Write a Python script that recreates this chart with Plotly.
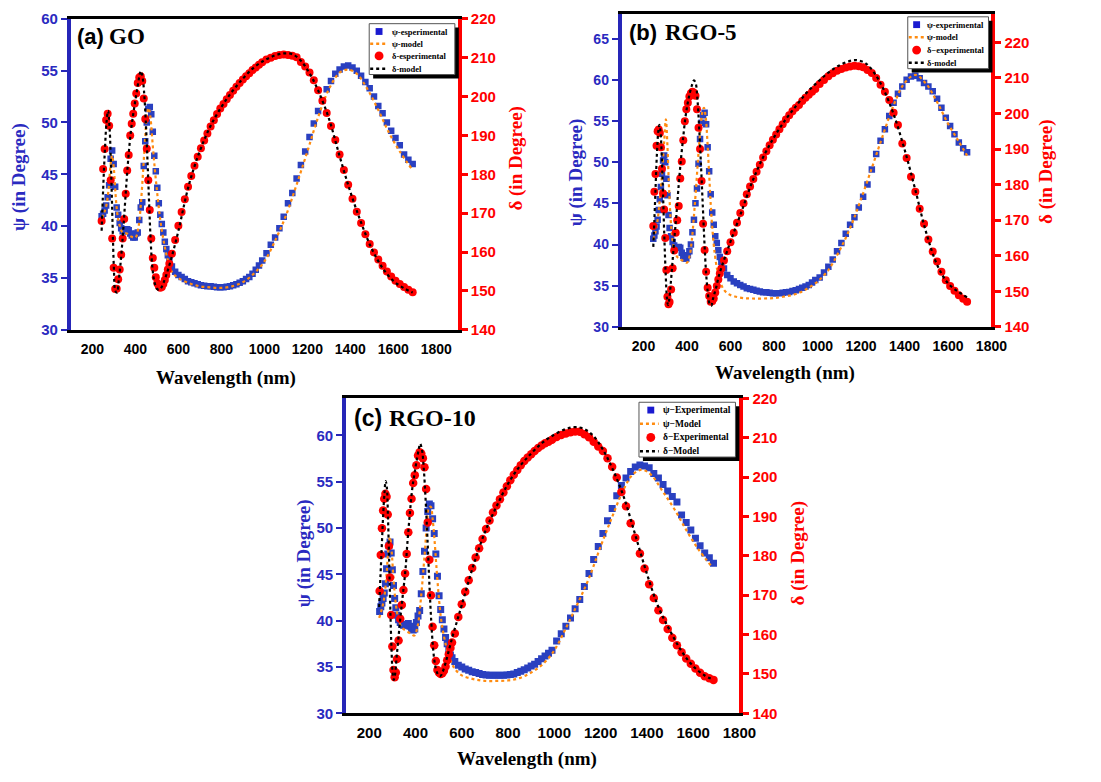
import plotly.graph_objects as go

# ---------------- data ----------------
x_ticks = [200, 400, 600, 800, 1000, 1200, 1400, 1600, 1800]

# Panel (a) GO
a_wl = [243, 250, 257, 264, 271, 278, 285, 292, 299, 306,
        313, 320, 327, 334, 341, 348, 355, 362, 369, 376,
        383, 390, 397, 404, 411, 418, 425, 432, 439, 446,
        453, 460, 467, 474, 481, 488, 495, 502, 509, 516,
        523, 530, 537, 544, 551, 558,
        570, 585, 600, 615, 630, 645, 660, 675, 690, 705,
        720, 735, 750, 765, 780, 795, 810, 825, 840, 855,
        870, 885, 900, 915, 930, 945, 960, 975, 990,
        1010, 1030, 1050, 1070, 1090, 1110, 1130, 1150, 1170, 1190,
        1210, 1230, 1250, 1270, 1290, 1310, 1330, 1350, 1370, 1390,
        1410, 1430, 1450, 1470, 1490, 1510, 1530, 1550, 1570, 1590,
        1610, 1630, 1650, 1670, 1690]
a_psi_exp = [40.95, 41.2, 41.5, 42.0, 42.8, 43.95, 46.5, 47.3, 46.0, 43.8,
             41.8, 41.1, 40.3, 39.8, 39.5, 39.5, 39.6, 39.7, 39.6, 39.3,
             39.1, 38.9, 38.9, 39.3, 39.4, 40.6, 41.8, 42.3, 45.8, 48.2,
             50.0, 51.3, 51.5, 50.8, 49.1, 46.8, 45.3, 43.7, 42.2, 41.1,
             40.2, 39.4, 38.5, 37.8, 37.2, 36.7,
             36.1, 35.6, 35.3, 35.1, 34.9, 34.7, 34.6, 34.5, 34.4, 34.3,
             34.25, 34.2, 34.2, 34.15, 34.1, 34.1, 34.1, 34.15, 34.2, 34.3,
             34.4, 34.55, 34.7, 34.9, 35.1, 35.4, 35.8, 36.2, 36.7,
             37.4, 38.2, 38.9, 39.8, 40.9, 42.2, 43.2, 44.6, 45.9, 47.2,
             48.6, 49.9, 51.1, 52.1, 53.2, 54.0, 54.7, 55.1, 55.4, 55.5,
             55.3, 55.0, 54.5, 53.9, 53.3, 52.5, 51.6, 50.9, 50.0, 49.2,
             48.5, 47.8, 46.9, 46.4, 46.0]
a_delta_exp = [168.0, 181.4, 186.5, 194.0, 195.6, 192.5, 178.5, 163.5, 156.0, 150.5,
               150.6, 153.0, 155.5, 159.3, 163.5, 168.5, 175.0, 181.0, 185.0, 190.0,
               193.0, 195.6, 198.2, 200.8, 203.5, 204.9, 205.2, 204.0, 199.5, 194.2,
               186.6, 178.5, 170.8, 163.5, 158.5, 156.0, 153.5, 152.0, 151.2, 150.8,
               151.0, 151.8, 152.8, 154.1, 155.5, 157.0,
               159.6, 163.1, 166.8, 170.3, 173.6, 176.8, 179.6, 182.2, 184.5, 186.7,
               188.7, 190.5, 192.3, 193.9, 195.5, 196.9, 198.1, 199.3, 200.4, 201.5,
               202.5, 203.5, 204.4, 205.2, 206.0, 206.8, 207.5, 208.2, 208.8,
               209.5, 210.0, 210.4, 210.7, 210.8, 210.7, 210.5, 210.1, 208.9, 207.7,
               206.2, 204.2, 201.6, 198.9, 195.8, 192.4, 188.8, 185.1, 181.1, 177.3,
               173.7, 170.4, 167.5, 164.6, 162.1, 159.9, 158.1, 156.5, 155.0, 153.7,
               152.6, 151.8, 151.0, 150.3, 149.7]
a_psi_mod_wl = [245, 255, 265, 275, 285, 292, 300, 308, 316, 325,
                340, 360, 380, 400, 415, 425, 435, 445, 455, 462,
                470, 480, 490, 500, 510, 520, 535, 550, 570, 600,
                650, 700, 750, 800, 850, 900, 950, 1000, 1050, 1100,
                1150, 1200, 1250, 1300, 1350, 1390, 1430, 1480, 1530, 1580,
                1630, 1690]
a_psi_mod = [40.8, 41.3, 42.0, 43.5, 46.0, 46.8, 45.5, 43.0, 41.2, 40.2,
             39.4, 39.3, 39.0, 38.9, 40.0, 42.0, 45.0, 48.3, 51.0, 51.4,
             50.5, 48.0, 45.6, 43.5, 41.6, 40.0, 38.2, 36.8, 35.6, 35.0,
             34.5, 34.2, 34.1, 34.05, 34.2, 34.6, 35.4, 36.6, 38.6, 41.0,
             44.0, 47.2, 50.5, 53.2, 54.8, 55.1, 54.7, 53.2, 51.2, 49.0,
             47.2, 45.4]
a_delta_mod_wl = [243, 250, 258, 266, 273, 280, 287, 294, 300, 307,
                  315, 322, 330, 340, 350, 360, 370, 380, 390, 400,
                  410, 418, 425, 432, 440, 448, 456, 464, 472, 480,
                  490, 500, 510, 520, 530, 545, 560, 580, 600, 650,
                  700, 750, 800, 850, 900, 950, 1000, 1050, 1090, 1130,
                  1170, 1210, 1250, 1300, 1350, 1400, 1450, 1500, 1550, 1600,
                  1650, 1690]
a_delta_mod = [165.5, 176.0, 186.0, 193.5, 196.3, 192.0, 181.0, 167.0, 156.0, 150.0,
               149.6, 152.5, 156.5, 163.0, 171.0, 179.0, 186.0, 191.5, 195.5, 199.0,
               202.5, 205.0, 206.6, 205.5, 201.5, 194.0, 184.0, 172.5, 162.0, 155.5,
               152.0, 150.6, 150.3, 150.8, 152.0, 154.3, 157.0, 161.0, 165.4, 177.5,
               186.0, 192.5, 197.3, 201.3, 204.6, 207.4, 209.3, 210.6, 211.1, 210.9,
               209.2, 206.0, 201.6, 194.4, 184.7, 175.5, 167.6, 160.8, 155.9, 152.6,
               150.7, 149.6]

# shared wavelength grid for panels (b) and (c)
bc_wl = [245, 250, 255, 260, 265, 270, 275, 280, 285, 290,
         295, 300, 305, 310, 315, 320, 327, 334, 341, 348,
         355, 362, 369, 376, 383, 390, 397, 404, 411, 418,
         425, 432, 439, 446, 453, 460, 467, 474, 481, 488,
         495, 502, 509, 516, 523, 530, 537, 544, 551, 558,
         570, 585, 600, 615, 630, 645, 660, 675, 690, 705,
         720, 735, 750, 765, 780, 795, 810, 825, 840, 855,
         870, 885, 900, 915, 930, 945, 960, 975, 990,
         1010, 1030, 1050, 1070, 1090, 1110, 1130, 1150, 1170, 1190,
         1210, 1230, 1250, 1270, 1290, 1310, 1330, 1350, 1370, 1390,
         1410, 1430, 1450, 1470, 1490, 1510, 1530, 1550, 1570, 1590,
         1610, 1630, 1650, 1670, 1688]

# Panel (b) RGO-5
b_psi_exp = [40.7, 41.1, 41.6, 42.2, 43.0, 44.2, 45.5, 47.0, 48.6, 50.2,
             50.8, 50.0, 48.0, 46.0, 43.6, 42.0, 41.0, 40.3, 39.9, 39.6,
             39.6, 39.7, 39.6, 39.0, 38.6, 38.3, 38.3, 38.7, 39.2, 40.0,
             41.5, 43.0, 45.0, 46.8, 49.8, 52.8, 54.8, 55.7, 56.0, 54.6,
             51.8, 48.9, 46.1, 43.9, 42.4, 41.0, 40.2, 39.3, 38.5, 37.9,
             37.1, 36.3, 35.9, 35.5, 35.3, 35.1, 34.9, 34.7, 34.6, 34.5,
             34.4, 34.3, 34.2, 34.2, 34.15, 34.1, 34.1, 34.1, 34.15, 34.2,
             34.25, 34.35, 34.45, 34.6, 34.75, 34.9, 35.1, 35.4, 35.7,
             36.0, 36.6, 37.3, 38.2, 39.2, 40.2, 41.3, 42.4, 43.3, 44.5,
             45.8, 47.3, 49.1, 51.0, 52.6, 54.0, 55.6, 57.2, 58.3, 59.2,
             60.0, 60.4, 60.5, 60.2, 59.6, 59.2, 58.6, 57.7, 56.6, 55.4,
             54.4, 53.4, 52.4, 51.7, 51.2]
b_delta_exp = [168.4, 178.0, 183.0, 190.9, 195.0, 195.5, 194.5, 190.5, 184.5, 177.5,
               173.0, 165.0, 156.0, 148.5, 146.4, 147.0, 150.5, 156.5, 161.5, 166.5,
               170.0, 174.0, 181.7, 186.5, 192.5, 197.8, 201.2, 203.0, 204.8, 205.7,
               206.1, 205.8, 205.0, 201.2, 196.0, 190.0, 181.0, 169.0, 161.6, 155.5,
               151.0, 148.7, 147.1, 147.2, 148.0, 149.7, 151.5, 153.3, 155.0, 156.4,
               158.7, 161.3, 163.8, 166.5, 169.3, 172.0, 174.8, 177.3, 179.5, 181.6,
               183.6, 185.6, 187.6, 189.4, 191.1, 192.6, 194.1, 195.6, 197.0, 198.3,
               199.5, 200.6, 201.6, 202.4, 203.5, 204.4, 205.3, 206.1, 206.9,
               208.3, 209.4, 210.5, 211.3, 212.0, 212.5, 212.9, 213.2, 213.4, 213.3,
               213.0, 212.2, 211.4, 210.0, 208.1, 206.1, 203.8, 200.2, 196.8, 191.6,
               187.5, 182.2, 178.0, 173.2, 169.0, 164.6, 161.2, 158.4, 155.5, 153.1,
               151.5, 150.2, 148.9, 147.9, 147.1]
b_psi_mod_wl = [245, 255, 265, 275, 285, 295, 303, 310, 318, 328,
                340, 355, 370, 385, 400, 412, 422, 432, 442, 452,
                462, 470, 478, 486, 494, 502, 510, 518, 528, 540,
                555, 570, 590, 620, 660, 700, 750, 800, 850, 900,
                950, 1000, 1050, 1100, 1150, 1200, 1250, 1300, 1350, 1400,
                1450, 1500, 1550, 1600, 1650, 1688]
b_psi_mod = [40.6, 41.5, 43.0, 45.5, 48.5, 52.5, 55.2, 52.0, 46.5, 42.0,
             39.5, 38.5, 38.2, 38.0, 37.8, 38.6, 40.5, 43.5, 47.0, 50.8,
             54.0, 56.0, 56.6, 55.5, 52.5, 48.5, 44.5, 41.5, 38.8, 36.8,
             35.3, 34.5, 34.0, 33.7, 33.5, 33.45, 33.45, 33.5, 33.7, 34.0,
             34.6, 35.5, 36.9, 39.2, 42.0, 45.5, 49.3, 53.2, 56.9, 59.6,
             60.6, 59.5, 57.3, 54.7, 52.5, 50.8]
b_delta_mod_wl = [245, 250, 256, 262, 268, 273, 278, 284, 290, 296,
                  302, 308, 313, 318, 325, 333, 342, 352, 362, 372,
                  382, 392, 402, 412, 422, 432, 440, 448, 456, 464,
                  472, 480, 488, 496, 504, 512, 518, 526, 535, 545,
                  560, 580, 600, 650, 700, 750, 800, 850, 900, 950,
                  1000, 1050, 1100, 1150, 1180, 1220, 1260, 1300, 1350, 1400,
                  1450, 1500, 1550, 1600, 1650, 1688]
b_delta_mod = [162.5, 170.0, 180.0, 189.0, 195.0, 196.8, 195.0, 188.0, 177.0, 165.0,
               155.0, 148.0, 146.2, 147.5, 152.0, 158.0, 165.0, 172.0, 180.0, 187.0,
               193.0, 198.5, 202.5, 205.5, 207.8, 209.3, 208.5, 204.0, 196.0, 186.0,
               175.0, 164.0, 155.0, 149.5, 146.5, 146.0, 147.5, 149.3, 151.3, 154.0,
               157.0, 160.5, 164.0, 172.3, 180.8, 187.7, 193.3, 198.0, 202.0, 205.8,
               208.8, 211.5, 213.5, 214.8, 215.0, 214.2, 211.5, 207.3, 199.8, 190.0,
               178.5, 166.5, 157.5, 152.3, 149.8, 148.3]

# Panel (c) RGO-10
c_psi_exp = [41.0, 41.5, 41.9, 42.4, 43.0, 44.0, 45.6, 47.2, 48.1, 48.5,
             47.3, 45.5, 43.8, 42.4, 41.4, 40.6, 40.1, 39.8, 39.6, 39.5,
             39.5, 39.6, 39.7, 39.4, 39.1, 39.0, 39.1, 39.8, 40.5, 41.1,
             42.9, 45.3, 47.5, 50.0, 51.8, 52.6, 52.4, 51.0, 49.4, 47.2,
             44.8, 42.7, 41.2, 40.1, 39.1, 38.2, 37.5, 36.8, 36.3, 36.0,
             35.6, 35.2, 35.0, 34.8, 34.65, 34.5, 34.4, 34.3, 34.2, 34.15,
             34.1, 34.1, 34.1, 34.1, 34.1, 34.15, 34.2, 34.25, 34.4, 34.55,
             34.7, 34.9, 35.1, 35.3, 35.6, 35.9, 36.2, 36.5, 36.8,
             37.8, 38.6, 39.4, 40.3, 41.3, 42.3, 43.7, 45.1, 46.6, 48.0,
             49.4, 50.8, 52.1, 53.5, 54.6, 55.4, 56.1, 56.6, 56.8, 56.7,
             56.5, 55.9, 55.4, 54.7, 54.0, 53.4, 52.8, 51.4, 50.6, 49.8,
             48.9, 48.1, 47.3, 46.8, 46.2]
c_delta_exp = [171.1, 180.2, 187.0, 191.5, 194.5, 195.8, 195.0, 190.5, 182.5, 174.5,
               165.0, 157.0, 151.0, 149.2, 150.4, 153.8, 158.5, 164.0, 167.5, 171.3,
               175.5, 180.5, 186.0, 190.9, 194.5, 198.5, 200.5, 203.0, 205.5, 206.3,
               206.0, 204.8, 202.5, 197.0, 188.5, 179.0, 170.0, 162.0, 157.3, 153.3,
               151.0, 150.3, 150.0, 150.2, 150.8, 151.9, 153.5, 155.0, 156.6, 158.0,
               160.3, 164.5, 167.7, 170.9, 173.8, 176.9, 179.6, 181.9, 184.3, 186.8,
               189.0, 191.0, 192.8, 194.4, 196.1, 197.7, 199.2, 200.6, 201.8, 203.0,
               204.1, 205.0, 205.8, 206.6, 207.4, 208.0, 208.6, 209.0, 209.5,
               210.2, 210.7, 211.1, 211.4, 211.6, 211.5, 210.9, 210.1, 209.0, 207.8,
               206.6, 204.8, 202.6, 199.9, 196.2, 192.6, 188.3, 184.6, 180.6, 176.8,
               172.8, 169.3, 166.2, 163.7, 161.4, 159.2, 157.3, 155.5, 153.9, 152.6,
               151.4, 150.3, 149.4, 148.9, 148.5]
c_psi_mod_wl = [243, 255, 265, 275, 283, 290, 297, 305, 315, 325,
                340, 360, 380, 395, 410, 420, 430, 440, 450, 458,
                466, 474, 482, 490, 500, 510, 520, 535, 550, 570,
                600, 650, 700, 750, 800, 850, 900, 950, 1000, 1050,
                1100, 1150, 1200, 1250, 1300, 1340, 1380, 1420, 1470, 1520,
                1570, 1620, 1685]
c_psi_mod = [40.3, 41.3, 42.5, 45.0, 47.8, 49.0, 47.5, 44.5, 41.8, 40.3,
             39.3, 38.9, 38.6, 38.4, 39.5, 41.5, 44.2, 47.3, 50.5, 52.2,
             52.3, 51.0, 48.8, 46.0, 42.8, 40.3, 38.7, 37.0, 35.8, 34.8,
             34.1, 33.7, 33.5, 33.5, 33.55, 33.8, 34.4, 35.3, 36.8, 39.2,
             41.8, 44.6, 48.0, 51.2, 54.2, 55.8, 56.3, 55.7, 53.9, 52.0,
             49.8, 47.8, 45.7]
c_delta_mod_wl = [243, 248, 254, 260, 266, 271, 276, 281, 286, 291,
                  296, 301, 306, 312, 318, 326, 336, 346, 356, 366,
                  376, 386, 396, 406, 414, 420, 428, 436, 444, 452,
                  460, 468, 476, 484, 492, 500, 508, 516, 526, 540,
                  560, 580, 600, 650, 700, 750, 800, 850, 900, 950,
                  1000, 1050, 1090, 1130, 1170, 1210, 1250, 1300, 1350, 1400,
                  1450, 1500, 1550, 1600, 1650, 1685]
c_delta_mod = [167.0, 174.0, 182.0, 190.0, 196.0, 199.0, 197.5, 190.0, 179.0, 167.0,
               157.0, 150.5, 148.5, 150.0, 154.0, 159.0, 165.0, 170.5, 176.0, 184.0,
               191.0, 197.0, 201.0, 204.5, 207.0, 208.5, 207.0, 202.0, 194.0, 184.0,
               173.0, 163.5, 156.5, 152.5, 150.5, 149.6, 149.5, 150.3, 152.0, 155.0,
               159.5, 163.5, 167.5, 177.5, 186.0, 192.5, 198.3, 202.7, 206.0, 208.8,
               210.8, 212.2, 212.7, 212.2, 210.4, 207.0, 202.3, 195.0, 185.3, 175.5,
               167.0, 161.0, 155.8, 152.0, 149.6, 148.6]

# ---------------- styling / layout ----------------
W, H = 1101, 782


def fx(px):
    return px / W


def fy(py):
    return 1 - py / H


BLUE_AX = "#2626b8"
BLUE_TXT = "#2a2ac0"
BLUE_MK = "#2a40c0"
RED = "#ff0000"
ORANGE = "#ff8c10"
SANS = "Liberation Sans"
SERIF = "Liberation Serif"

panels = [
    dict(wl=a_wl, psi=a_psi_exp, delta=a_delta_exp,
         pm_wl=a_psi_mod_wl, pm=a_psi_mod, dm_wl=a_delta_mod_wl, dm=a_delta_mod,
         box=(72, 10, 465, 328), xr=[100, 1900], yl=[30, 60], yr=[140, 220],
         ylt=[30, 35, 40, 45, 50, 55, 60], yrt=[140, 150, 160, 170, 180, 190, 200, 210, 220],
         fs_x=14, fs_yl=15, fs_yr=15,
         tag="(a)", name="GO", tag_x=76, name_x=109, title_y=28, title_fs=23,
         xt=(230, 377), ylt_pos=(20, 172), yrt_pos=(524, 153), axt_fs=19,
         leg=(375, 15, 462, 67), leg_rows=[23, 35.5, 48, 61], leg_sym=385, leg_txt=396,
         leg_fs=8.5, leg_lbl=["ψ-esperimental", "ψ-model", "δ-esperimental", "δ-model"],
         ms_sq=6.5, ms_c=8),
    dict(wl=bc_wl, psi=b_psi_exp, delta=b_delta_exp,
         pm_wl=b_psi_mod_wl, pm=b_psi_mod, dm_wl=b_delta_mod_wl, dm=b_delta_mod,
         box=(631.5, 5, 1007, 325), xr=[100, 1800], yl=[30, 68], yr=[140, 228],
         ylt=[30, 35, 40, 45, 50, 55, 60, 65], yrt=[140, 150, 160, 170, 180, 190, 200, 210, 220],
         fs_x=14, fs_yl=14, fs_yr=15,
         tag="(b)", name="RGO-5", tag_x=637, name_x=673, title_y=24, title_fs=23,
         xt=(797, 372), ylt_pos=(585, 167), yrt_pos=(1063, 167), axt_fs=19,
         leg=(922, 8, 1004, 61), leg_rows=[16, 29, 42, 55], leg_sym=931, leg_txt=940,
         leg_fs=8.5, leg_lbl=["ψ-experimental", "ψ-model", "δ−experimental", "δ-model"],
         ms_sq=6.5, ms_c=8),
    dict(wl=bc_wl, psi=c_psi_exp, delta=c_delta_exp,
         pm_wl=c_psi_mod_wl, pm=c_psi_mod, dm_wl=c_delta_mod_wl, dm=c_delta_mod,
         box=(351.5, 398, 751, 720), xr=[100, 1800], yl=[30, 64], yr=[140, 220],
         ylt=[30, 35, 40, 45, 50, 55, 60], yrt=[140, 150, 160, 170, 180, 190, 200, 210, 220],
         fs_x=15, fs_yl=15, fs_yr=15,
         tag="(c)", name="RGO-10", tag_x=358, name_x=393, title_y=418, title_fs=24,
         xt=(535, 767), ylt_pos=(309, 556), yrt_pos=(810, 556), axt_fs=19,
         leg=(649, 402, 747, 458), leg_rows=[410, 424, 438, 452], leg_sym=661, leg_txt=671,
         leg_fs=9.5, leg_lbl=["ψ−Experimental", "ψ−Model", "δ−Experimental", "δ−Model"],
         ms_sq=7, ms_c=8.5),
]

fig = go.Figure()
layout = dict(width=W, height=H, margin=dict(l=0, r=0, t=0, b=0), autosize=False,
              paper_bgcolor="white", plot_bgcolor="white", showlegend=False)
annotations = []
shapes = []

for i, p in enumerate(panels):
    xname = "x" if i == 0 else f"x{i + 1}"
    ylname = "y" if i == 0 else f"y{2 * i + 1}"
    yrname = f"y{2 * i + 2}"
    xkey = "xaxis" if i == 0 else f"xaxis{i + 1}"
    ylkey = "yaxis" if i == 0 else f"yaxis{2 * i + 1}"
    yrkey = f"yaxis{2 * i + 2}"
    x0, y0, x1, y1 = p["box"]
    lbl = p["leg_lbl"]

    fig.add_trace(go.Scatter(x=p["wl"], y=p["psi"], mode="markers", name=lbl[0],
                             marker=dict(symbol="square", size=p["ms_sq"], color=BLUE_MK,
                                         line=dict(width=0)),
                             xaxis=xname, yaxis=ylname))
    fig.add_trace(go.Scatter(x=p["pm_wl"], y=p["pm"], mode="lines", name=lbl[1],
                             line=dict(color=ORANGE, width=2.2, dash="dot", shape="spline"),
                             xaxis=xname, yaxis=ylname))
    fig.add_trace(go.Scatter(x=p["wl"], y=p["delta"], mode="markers", name=lbl[2],
                             marker=dict(symbol="circle", size=p["ms_c"], color=RED,
                                         line=dict(width=0)),
                             xaxis=xname, yaxis=yrname))
    fig.add_trace(go.Scatter(x=p["dm_wl"], y=p["dm"], mode="lines", name=lbl[3],
                             line=dict(color="black", width=2.2, dash="dot", shape="spline"),
                             xaxis=xname, yaxis=yrname))

    layout[xkey] = dict(domain=[fx(x0), fx(x1)], range=p["xr"], anchor=ylname,
                        tickvals=x_ticks, showline=True, linecolor="black", linewidth=3,
                        mirror=True, ticks="outside", ticklen=4, tickcolor="rgba(0,0,0,0)",
                        tickfont=dict(family=SANS, size=p["fs_x"], color="black", weight="bold"),
                        showgrid=False, zeroline=False)
    layout[ylkey] = dict(domain=[fy(y1), fy(y0)], range=p["yl"], anchor=xname, side="left",
                         tickvals=p["ylt"], showline=True, linecolor=BLUE_AX, linewidth=4,
                         ticks="outside", ticklen=6, tickwidth=2, tickcolor=BLUE_AX,
                         tickfont=dict(family=SANS, size=p["fs_yl"], color=BLUE_TXT, weight="bold"),
                         showgrid=False, zeroline=False)
    layout[yrkey] = dict(range=p["yr"], overlaying=ylname, anchor=xname, side="right",
                         tickvals=p["yrt"], showline=True, linecolor=RED, linewidth=4,
                         ticks="outside", ticklen=6, tickwidth=3, tickcolor=RED,
                         tickfont=dict(family=SANS, size=p["fs_yr"], color=RED, weight="bold"),
                         showgrid=False, zeroline=False)

    # panel title
    annotations.append(dict(x=fx(p["tag_x"]), y=fy(p["title_y"]), xref="paper", yref="paper",
                            text="<b>" + p["tag"] + "</b>", showarrow=False, xanchor="left",
                            yanchor="middle",
                            font=dict(family=SANS, size=p["title_fs"] - 1, color="black")))
    annotations.append(dict(x=fx(p["name_x"]), y=fy(p["title_y"]), xref="paper", yref="paper",
                            text="<b>" + p["name"] + "</b>", showarrow=False, xanchor="left",
                            yanchor="middle",
                            font=dict(family=SERIF, size=p["title_fs"], color="black")))
    # axis titles
    annotations.append(dict(x=fx(p["xt"][0]), y=fy(p["xt"][1]), xref="paper", yref="paper",
                            text="<b>Wavelength (nm)</b>", showarrow=False,
                            xanchor="center", yanchor="middle",
                            font=dict(family=SERIF, size=p["axt_fs"], color="black")))
    annotations.append(dict(x=fx(p["ylt_pos"][0]), y=fy(p["ylt_pos"][1]), xref="paper",
                            yref="paper", text="<b>ψ (in Degree)</b>", showarrow=False,
                            textangle=-90, xanchor="center", yanchor="middle",
                            font=dict(family=SERIF, size=p["axt_fs"], color=BLUE_TXT)))
    annotations.append(dict(x=fx(p["yrt_pos"][0]), y=fy(p["yrt_pos"][1]), xref="paper",
                            yref="paper", text="<b>δ (in Degree)</b>", showarrow=False,
                            textangle=-90, xanchor="center", yanchor="middle",
                            font=dict(family=SERIF, size=p["axt_fs"], color=RED)))

    # legend box with drop shadow
    lx0, ly0, lx1, ly1 = p["leg"]
    shapes.append(dict(type="rect", xref="paper", yref="paper",
                       x0=fx(lx0 + 4), x1=fx(lx1 + 4), y0=fy(ly1 + 4), y1=fy(ly0 + 4),
                       fillcolor="black", line=dict(width=0)))
    shapes.append(dict(type="rect", xref="paper", yref="paper",
                       x0=fx(lx0), x1=fx(lx1), y0=fy(ly1), y1=fy(ly0),
                       fillcolor="white", line=dict(color="#555555", width=1)))
    rows = p["leg_rows"]
    sx = p["leg_sym"]
    shapes.append(dict(type="rect", xref="paper", yref="paper",
                       x0=fx(sx - 3.5), x1=fx(sx + 3.5), y0=fy(rows[0] + 3.5), y1=fy(rows[0] - 3.5),
                       fillcolor="#1a1ad0", line=dict(width=0)))
    shapes.append(dict(type="line", xref="paper", yref="paper",
                       x0=fx(lx0 + 1), x1=fx(sx + 8), y0=fy(rows[1]), y1=fy(rows[1]),
                       line=dict(color=ORANGE, width=2.5, dash="dot")))
    shapes.append(dict(type="circle", xref="paper", yref="paper",
                       x0=fx(sx - 4.5), x1=fx(sx + 4.5), y0=fy(rows[2] + 4.5), y1=fy(rows[2] - 4.5),
                       fillcolor=RED, line=dict(width=0)))
    shapes.append(dict(type="line", xref="paper", yref="paper",
                       x0=fx(lx0 + 1), x1=fx(sx + 8), y0=fy(rows[3]), y1=fy(rows[3]),
                       line=dict(color="black", width=2.5, dash="dot")))
    for r, t in zip(rows, lbl):
        annotations.append(dict(x=fx(p["leg_txt"]), y=fy(r), xref="paper", yref="paper",
                                text="<b>" + t + "</b>", showarrow=False, xanchor="left",
                                yanchor="middle",
                                font=dict(family=SERIF, size=p["leg_fs"], color="black")))

layout["annotations"] = annotations
layout["shapes"] = shapes
fig.update_layout(**layout)
fig.write_html("out.html")
